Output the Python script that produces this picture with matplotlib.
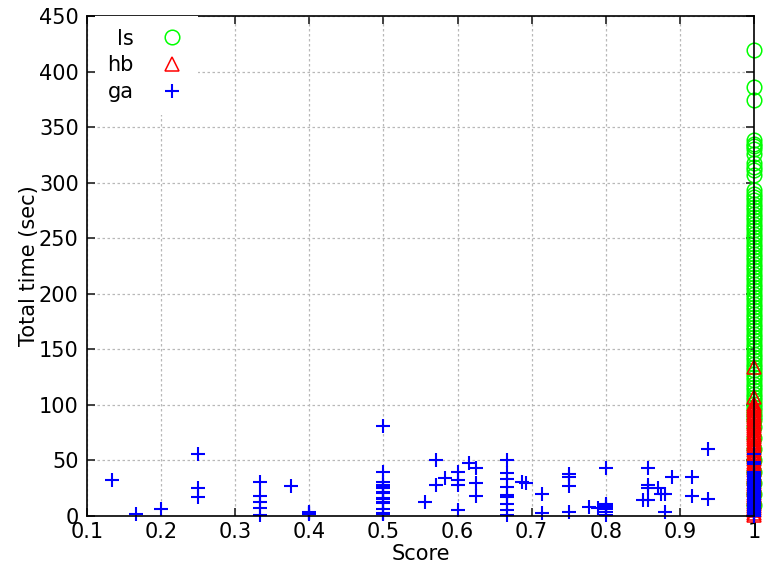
import matplotlib
matplotlib.use("Agg")
import matplotlib.pyplot as plt

# ls : toutes les solutions atteignent le score 1
ls_score = [1.0] * 90
ls_time = [419, 386, 374, 338, 335, 333, 330, 326, 318, 314, 311, 307,
           293, 290, 287, 284, 281, 278, 275, 272, 269, 266, 263, 260,
           257, 254, 251, 248, 245, 242, 239, 236, 233, 230, 227, 224,
           221, 218, 215, 212, 209, 206, 203, 200, 197, 194, 191, 188,
           185, 182, 179, 176, 173, 170, 167, 164, 161, 158, 155, 152,
           149, 146, 143, 140, 137, 134, 131, 128, 125, 122, 119, 116,
           113, 110, 107, 104, 101, 98, 95, 92, 89, 86, 80, 70, 60, 50,
           40, 30, 20, 10]

# hb : score 1 aussi
hb_time = [134, 107, 101, 99, 97, 95, 93, 91, 89, 87, 85, 83, 81, 79, 77,
           75, 73, 71, 69, 67, 65, 63, 61, 59, 57, 55, 53, 51, 49, 47, 45,
           43, 41, 39, 37, 35, 33, 31, 29, 27, 25, 23, 21, 19, 17, 15, 13,
           11, 9, 7, 5, 3, 1]
hb_score = [1.0] * len(hb_time)

# ga : scores dispersés
ga_score = [0.1333, 0.1667, 0.2, 0.25, 0.25, 0.25,
            0.3333, 0.3333, 0.3333, 0.3333, 0.3333,
            0.375, 0.4, 0.4, 0.4, 0.4,
            0.5, 0.5, 0.5, 0.5, 0.5, 0.5, 0.5, 0.5, 0.5, 0.5, 0.5, 0.5,
            0.5, 0.5, 0.5, 0.5,
            0.5556, 0.5714, 0.5714, 0.5833,
            0.6, 0.6, 0.6, 0.6,
            0.6154, 0.625, 0.625, 0.625,
            0.6667, 0.6667, 0.6667, 0.6667, 0.6667, 0.6667, 0.6667, 0.6667,
            0.6667,
            0.6875, 0.6923, 0.7143, 0.7143,
            0.75, 0.75, 0.75, 0.75,
            0.7778, 0.7895, 0.8, 0.8, 0.8, 0.8, 0.8, 0.8, 0.8,
            0.85, 0.8571, 0.8571, 0.8571, 0.8571,
            0.87, 0.875, 0.88, 0.88,
            0.8889, 0.9167, 0.9167, 0.9375, 0.9375]
ga_time = [32, 2, 6, 56, 25, 17,
           31, 18, 13, 7, 1,
           27, 4, 3, 2.5, 2,
           81, 40, 31, 28, 26, 25, 22, 21, 16, 15, 13, 12,
           6, 3, 2, 1.5,
           13, 50, 28, 34,
           40, 32, 28, 5,
           48, 43, 30, 18,
           50, 39, 33, 26, 18.5, 17.5, 11, 5,
           1,
           31, 30, 20, 2.4,
           38, 35, 27, 4,
           8, 7, 43, 11, 9.5, 8, 6.5, 4, 1,
           14, 43.5, 28, 25.5, 14.5,
           25, 19.5, 19.5, 4,
           35, 35, 18, 60, 15]
ga1_time = [56, 49, 47, 40, 38, 37, 36, 35.2, 34.5, 33, 32, 31, 30, 29.2, 28,
            27, 26, 25, 24, 23, 22, 21, 20, 19, 18, 17, 16, 15, 14, 13, 12,
            11, 10, 9, 8, 7, 6, 5, 4, 3, 2, 1, 0.5, 0]
ga_score = ga_score + [1.0] * len(ga1_time)
ga_time = ga_time + ga1_time

fig = plt.figure(figsize=(7.78, 5.73), dpi=100)
ax = fig.add_axes([0.1118, 0.0995, 0.8574, 0.8725])

ax.plot(ls_score, ls_time, linestyle='none', marker='o', markersize=10.5,
        markerfacecolor='none', markeredgecolor='#00ff00', markeredgewidth=1.1,
        label='ls', clip_on=False, zorder=3)
ax.plot(hb_score, hb_time, linestyle='none', marker='^', markersize=10,
        markerfacecolor='none', markeredgecolor='#ff0000', markeredgewidth=1.1,
        label='hb', clip_on=False, zorder=4)
ax.plot(ga_score, ga_time, linestyle='none', marker='+', markersize=10.5,
        markeredgecolor='#0000ff', markeredgewidth=1.5,
        label='ga', clip_on=False, zorder=5)

ax.set_xlim(0.1, 1.0)
ax.set_ylim(0, 450)
ax.set_xticks([0.1, 0.2, 0.3, 0.4, 0.5, 0.6, 0.7, 0.8, 0.9, 1.0])
ax.set_xticklabels(['0.1', '0.2', '0.3', '0.4', '0.5', '0.6', '0.7', '0.8', '0.9', '1'])
ax.set_yticks(range(0, 451, 50))

ax.grid(True, color='#b8b8b8', linestyle=(0, (2, 2)), linewidth=0.9)
ax.set_axisbelow(True)
ax.tick_params(direction='in', top=True, right=True, length=6, width=1.3,
               labelsize=15, color='#333333')
ax.tick_params(axis='x', pad=4)
ax.tick_params(axis='y', pad=6)
for s in ax.spines.values():
    s.set_linewidth(1.2)
    s.set_zorder(6)

ax.set_xlabel('Score', fontsize=15)
ax.set_ylabel('Total time (sec)', fontsize=15)
ax.xaxis.set_label_coords(0.5, -0.056)
ax.yaxis.set_label_coords(-0.072, 0.5)

leg = ax.legend(loc='upper left', bbox_to_anchor=(0.012, 1.0),
                markerfirst=False, frameon=True,
                fancybox=False, framealpha=1, edgecolor='none',
                facecolor='white', borderaxespad=0, borderpad=0.6,
                handlelength=1.3, handletextpad=1.2, labelspacing=0.33,
                fontsize=15)
leg.set_zorder(7)

fig.savefig('out.png', dpi=100)
